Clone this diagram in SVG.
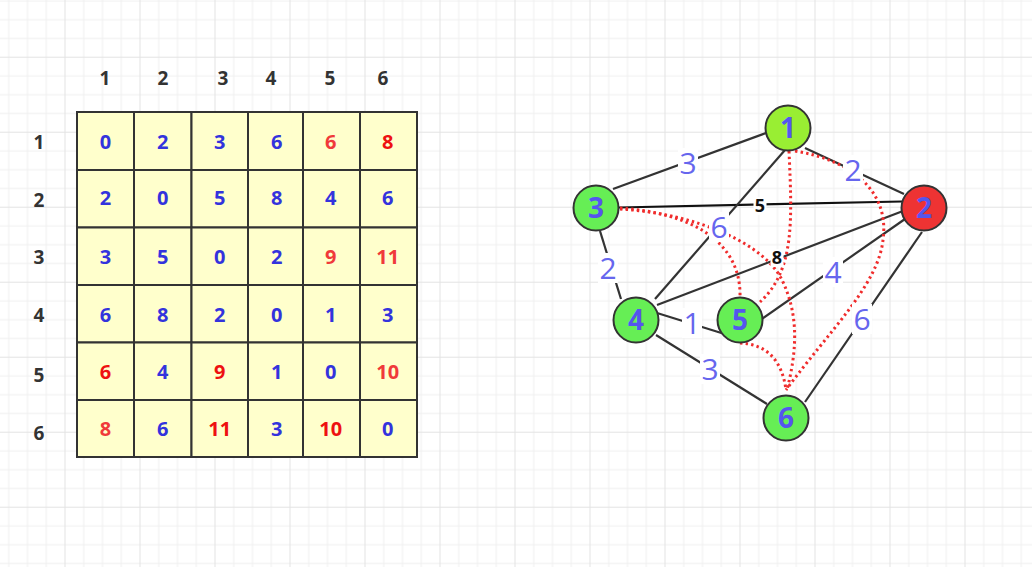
<svg xmlns="http://www.w3.org/2000/svg" width="1032" height="567" viewBox="0 0 1032 567">
<defs>
<pattern id="grid" patternUnits="userSpaceOnUse" x="64.5" y="56.7" width="75" height="75">
<rect width="75" height="75" fill="#ffffff"/>
<g fill="#f0f0f0">
<rect x="18.75" y="0" width="1" height="75"/><rect x="37.5" y="0" width="1" height="75"/><rect x="56.25" y="0" width="1" height="75"/>
<rect x="0" y="18.75" width="75" height="1"/><rect x="0" y="37.5" width="75" height="1"/><rect x="0" y="56.25" width="75" height="1"/>
</g>
<g fill="#e3e3e3"><rect x="0" y="0" width="1" height="75"/><rect x="0" y="0" width="75" height="1"/></g>
</pattern>
</defs>
<style>
.cell{fill:#ffffcc;stroke:#333333;stroke-width:2}
.hd{font-family:"Open Sans","Liberation Sans",sans-serif;font-weight:bold;font-size:19px;fill:#333333;text-anchor:middle}
.v{font-family:"Open Sans","Liberation Sans",sans-serif;font-weight:bold;font-size:20px;text-anchor:middle}
.b{fill:#3333dd}
.r{fill:#ee1111}
.rl{fill:#f03a3a}
.edge{stroke:#333333;stroke-width:2.2;fill:none}
.dark{stroke:#111111;stroke-width:2.2;fill:none}
.path{stroke:#f02c2c;stroke-width:3;fill:none;stroke-dasharray:2.4 3.2}
.lbg{fill:#ffffff}
.wl{font-family:"Open Sans","Liberation Sans",sans-serif;font-size:30px;fill:#6666ee;text-anchor:middle}
.ws{font-family:"Open Sans","Liberation Sans",sans-serif;font-size:18px;font-weight:bold;fill:#111111;text-anchor:middle}
.node{stroke:#333333;stroke-width:2}
.nl{font-family:"Open Sans","Liberation Sans",sans-serif;font-size:28px;font-weight:bold;fill:#5555ee;text-anchor:middle}
</style>
<rect width="1032" height="567" fill="url(#grid)"/>

<g id="headers">
<text class="hd" x="105" y="85">1</text>
<text class="hd" x="163" y="85">2</text>
<text class="hd" x="223" y="85">3</text>
<text class="hd" x="271" y="85">4</text>
<text class="hd" x="330" y="85">5</text>
<text class="hd" x="383" y="85">6</text>
<text class="hd" x="39" y="148.5">1</text>
<text class="hd" x="39" y="207">2</text>
<text class="hd" x="39" y="263.5">3</text>
<text class="hd" x="39" y="322">4</text>
<text class="hd" x="39" y="382">5</text>
<text class="hd" x="39" y="439.5">6</text>
</g>

<g id="matrix">
<rect class="cell" x="77" y="112" width="57" height="58"/><rect class="cell" x="134" y="112" width="57.5" height="58"/><rect class="cell" x="191.5" y="112" width="56.5" height="58"/><rect class="cell" x="248" y="112" width="55" height="58"/><rect class="cell" x="303" y="112" width="57" height="58"/><rect class="cell" x="360" y="112" width="57" height="58"/>
<rect class="cell" x="77" y="170" width="57" height="57.5"/><rect class="cell" x="134" y="170" width="57.5" height="57.5"/><rect class="cell" x="191.5" y="170" width="56.5" height="57.5"/><rect class="cell" x="248" y="170" width="55" height="57.5"/><rect class="cell" x="303" y="170" width="57" height="57.5"/><rect class="cell" x="360" y="170" width="57" height="57.5"/>
<rect class="cell" x="77" y="227.5" width="57" height="57.5"/><rect class="cell" x="134" y="227.5" width="57.5" height="57.5"/><rect class="cell" x="191.5" y="227.5" width="56.5" height="57.5"/><rect class="cell" x="248" y="227.5" width="55" height="57.5"/><rect class="cell" x="303" y="227.5" width="57" height="57.5"/><rect class="cell" x="360" y="227.5" width="57" height="57.5"/>
<rect class="cell" x="77" y="285" width="57" height="57.5"/><rect class="cell" x="134" y="285" width="57.5" height="57.5"/><rect class="cell" x="191.5" y="285" width="56.5" height="57.5"/><rect class="cell" x="248" y="285" width="55" height="57.5"/><rect class="cell" x="303" y="285" width="57" height="57.5"/><rect class="cell" x="360" y="285" width="57" height="57.5"/>
<rect class="cell" x="77" y="342.5" width="57" height="57.5"/><rect class="cell" x="134" y="342.5" width="57.5" height="57.5"/><rect class="cell" x="191.5" y="342.5" width="56.5" height="57.5"/><rect class="cell" x="248" y="342.5" width="55" height="57.5"/><rect class="cell" x="303" y="342.5" width="57" height="57.5"/><rect class="cell" x="360" y="342.5" width="57" height="57.5"/>
<rect class="cell" x="77" y="400" width="57" height="57"/><rect class="cell" x="134" y="400" width="57.5" height="57"/><rect class="cell" x="191.5" y="400" width="56.5" height="57"/><rect class="cell" x="248" y="400" width="55" height="57"/><rect class="cell" x="303" y="400" width="57" height="57"/><rect class="cell" x="360" y="400" width="57" height="57"/>

<text class="v b" x="105.5" y="148.8">0</text><text class="v b" x="162.7" y="148.8">2</text><text class="v b" x="219.7" y="148.8">3</text><text class="v b" x="276.7" y="148.8">6</text><text class="v rl" x="330.7" y="148.8">6</text><text class="v r" x="387.7" y="148.8">8</text>
<text class="v b" x="105.5" y="205.3">2</text><text class="v b" x="162.7" y="205.3">0</text><text class="v b" x="219.7" y="205.3">5</text><text class="v b" x="276.7" y="205.3">8</text><text class="v b" x="330.7" y="205.3">4</text><text class="v b" x="387.7" y="205.3">6</text>
<text class="v b" x="105.5" y="263.8">3</text><text class="v b" x="162.7" y="263.8">5</text><text class="v b" x="219.7" y="263.8">0</text><text class="v b" x="276.7" y="263.8">2</text><text class="v rl" x="330.7" y="263.8">9</text><text class="v rl" x="387.7" y="263.8">11</text>
<text class="v b" x="105.5" y="322.1">6</text><text class="v b" x="162.7" y="322.1">8</text><text class="v b" x="219.7" y="322.1">2</text><text class="v b" x="276.7" y="322.1">0</text><text class="v b" x="330.7" y="322.1">1</text><text class="v b" x="387.7" y="322.1">3</text>
<text class="v r" x="105.5" y="378.8">6</text><text class="v b" x="162.7" y="378.8">4</text><text class="v r" x="219.7" y="378.8">9</text><text class="v b" x="276.7" y="378.8">1</text><text class="v b" x="330.7" y="378.8">0</text><text class="v rl" x="387.7" y="378.8">10</text>
<text class="v rl" x="105.5" y="436.3">8</text><text class="v b" x="162.7" y="436.3">6</text><text class="v r" x="219.7" y="436.3">11</text><text class="v b" x="276.7" y="436.3">3</text><text class="v r" x="330.7" y="436.3">10</text><text class="v b" x="387.7" y="436.3">0</text>
</g>

<g id="connectors">
<line class="edge" x1="613" y1="189" x2="766" y2="133"/>
<line class="edge" x1="805" y1="148" x2="904" y2="194"/>
<line class="dark" x1="619" y1="207.5" x2="902" y2="201.5"/>
<line class="edge" x1="600" y1="231" x2="621" y2="299"/>
<line class="edge" x1="655" y1="299" x2="785" y2="150"/>
<line class="edge" x1="657" y1="305" x2="903" y2="211"/>
<line class="edge" x1="657" y1="313" x2="723" y2="333.5"/>
<line class="edge" x1="761" y1="319.5" x2="905" y2="219"/>
<line class="edge" x1="656" y1="335" x2="767" y2="404"/>
<line class="edge" x1="922" y1="232" x2="805" y2="402"/>

<path class="path" d="M789,151 C792,220 795,270 760,302"/>
<path class="path" d="M795,151 C850,160 890,190 883,240 C878,285 830,330 786,390"/>
<path class="path" d="M620,208 C680,212 742,235 740,298"/>
<path class="path" d="M620,209 C700,214 765,245 782,280 S797,350 787,390"/>
<path class="path" d="M740,343 Q780,345 786,390"/>

<rect class="lbg" x="678" y="148" width="20" height="30"/><text class="wl" x="688" y="173.7">3</text>
<rect class="lbg" x="843" y="155" width="20" height="30"/><text class="wl" x="853" y="180.7">2</text>
<rect class="lbg" x="598" y="253" width="20" height="30"/><text class="wl" x="608" y="278.7">2</text>
<rect class="lbg" x="709" y="212" width="20" height="30"/><text class="wl" x="719" y="237.7">6</text>
<rect class="lbg" x="682" y="308" width="20" height="30"/><text class="wl" x="692" y="333.7">1</text>
<rect class="lbg" x="823" y="257" width="20" height="30"/><text class="wl" x="833" y="282.7">4</text>
<rect class="lbg" x="700" y="354" width="20" height="30"/><text class="wl" x="710" y="379.7">3</text>
<rect class="lbg" x="852" y="304" width="20" height="30"/><text class="wl" x="862" y="329.7">6</text>
<rect class="lbg" x="753.5" y="197" width="13" height="18"/><text class="ws" x="760" y="212.4">5</text>
<rect class="lbg" x="770.5" y="249" width="13" height="18"/><text class="ws" x="777" y="264.4">8</text>
</g>

<g id="node-1"><circle class="node" cx="788" cy="128" r="22.5" fill="#99ee33"/><text class="nl" x="788" y="138">1</text></g>
<g id="node-2"><circle class="node" cx="924" cy="208" r="22.5" fill="#ee3333"/><text class="nl" x="924" y="218">2</text></g>
<g id="node-3"><circle class="node" cx="596" cy="208" r="22.5" fill="#66ee55"/><text class="nl" x="596" y="218">3</text></g>
<g id="node-4"><circle class="node" cx="636" cy="320" r="22.5" fill="#66ee55"/><text class="nl" x="636" y="330">4</text></g>
<g id="node-5"><circle class="node" cx="740" cy="320" r="22.5" fill="#66ee55"/><text class="nl" x="740" y="330">5</text></g>
<g id="node-6"><circle class="node" cx="786" cy="418" r="22.5" fill="#66ee55"/><text class="nl" x="786" y="428">6</text></g>
</svg>
